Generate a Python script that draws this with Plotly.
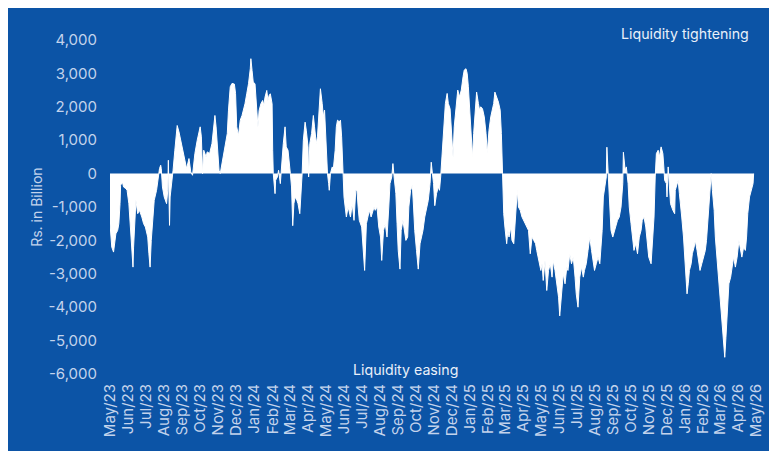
import pandas as pd
import plotly.graph_objects as go

# Days since 2023-05-01 and net liquidity (Rs. billion)
day_offset = [
    0, 2, 3, 6, 8, 10, 13, 15, 17, 18, 21, 23, 27, 29, 32, 34, 37, 39, 40, 42,
    44, 47, 50, 54, 57, 60, 64, 66, 68, 70, 73, 75, 79, 82, 84, 86, 87, 89, 92, 96,
    98, 99, 100, 101, 102, 105, 107, 110, 114, 117, 121, 126, 130, 134, 137, 140, 144, 148, 153, 155,
    157, 159, 163, 165, 169, 173, 175, 178, 180, 182, 185, 187, 190, 193, 196, 199, 201, 204, 207, 211,
    213, 215, 218, 221, 224, 227, 229, 232, 235, 238, 239, 241, 243, 246, 249, 251, 253, 256, 259, 261,
    263, 266, 268, 270, 272, 275, 276, 277, 280, 281, 284, 286, 289, 290, 292, 294, 297, 299, 302, 304,
    306, 308, 310, 312, 314, 317, 319, 322, 324, 326, 328, 331, 333, 336, 337, 339, 342, 345, 347, 350,
    352, 355, 357, 360, 362, 364, 365, 367, 369, 371, 372, 374, 377, 379, 382, 384, 386, 389, 391, 393,
    395, 397, 399, 401, 404, 408, 411, 414, 417, 419, 421, 423, 427, 429, 432, 435, 438, 440, 443, 448,
    450, 453, 456, 459, 461, 464, 467, 470, 473, 475, 478, 480, 482, 485, 487, 489, 492, 494, 497, 500,
    502, 505, 507, 510, 513, 515, 517, 520, 523, 526, 529, 531, 534, 537, 540, 543, 545, 547, 549, 551,
    554, 557, 559, 561, 562, 565, 569, 572, 574, 577, 580, 582, 584, 587, 590, 593, 596, 599, 601, 604,
    606, 608, 610, 612, 615, 617, 620, 622, 625, 627, 629, 632, 635, 638, 640, 643, 646, 651, 653, 656,
    659, 662, 664, 666, 668, 670, 673, 675, 677, 680, 682, 685, 688, 691, 693, 696, 699, 702, 705, 708,
    710, 713, 716, 719, 722, 724, 728, 731, 733, 735, 738, 741, 744, 747, 750, 752, 755, 758, 761, 763,
    766, 769, 772, 775, 777, 780, 783, 786, 789, 791, 794, 797, 800, 803, 805, 808, 811, 814, 817, 819,
    822, 825, 828, 831, 833, 835, 837, 839, 842, 843, 845, 847, 850, 853, 856, 859, 861, 864, 867, 870,
    871, 874, 876, 879, 881, 884, 887, 889, 892, 895, 898, 901, 903, 906, 909, 912, 914, 918, 920, 923,
    925, 927, 930, 932, 935, 938, 940, 941, 944, 945, 947, 949, 951, 955, 958, 959, 962, 964, 966, 968,
    970, 973, 976, 979, 981, 983, 986, 988, 991, 993, 996, 998, 1001, 1004, 1007, 1010, 1012, 1015, 1018, 1020,
    1022, 1025, 1027, 1030, 1033, 1036, 1039, 1041, 1043, 1045, 1048, 1050, 1053, 1055, 1058, 1061, 1064, 1067, 1069, 1072,
    1075, 1078, 1080, 1082, 1085, 1088, 1091, 1092,
]
liquidity = [
    -1500, -2000, -2200, -2350, -2000, -1800, -1700, -1500, -900, -350, -250, -400, -450, -500, -900, -1400, -2200, -2800, -2200, -1500,
    -800, -1200, -1100, -1300, -1500, -1600, -1900, -2400, -2800, -2000, -1200, -800, -500, -100, 150, 250, 150, -400, -700, -900,
    -500, 400, -1000, -1550, -700, -300, 100, 700, 1440, 1250, 900, 400, 150, 450, 50, -50, 600, 1000, 1400, 1100,
    0, 700, 500, 650, 600, 900, 1200, 1740, 1400, 900, 100, 0, 300, 600, 800, 1200, 1900, 2600, 2700, 2680,
    2400, 1400, 1140, 1600, 1740, 1940, 2090, 2390, 2690, 3140, 3440, 3090, 2740, 2690, 1890, 1390, 1890, 2090, 2190, 2040,
    2290, 2490, 2190, 2340, 2390, 2090, 700, 0, -600, -200, -100, 100, -300, 0, 600, 900, 1400, 800, 700, 400,
    0, -400, -1560, -900, -700, -800, -900, -1200, -700, 0, 1000, 1540, 1300, 800, -100, 900, 1200, 1740, 1400, 900,
    1100, 1900, 2540, 2100, 1700, 1900, 1400, 400, 0, -300, -500, 0, 200, 150, 700, 1400, 1600, 1550, 1600, 1100,
    0, -700, -1000, -1300, -1000, -1300, -900, -1400, -500, -500, -1000, -1400, -1600, -2100, -2900, -1500, -1300, -1100, -1300, -1000,
    -1100, -1000, -1600, -1900, -2600, -1700, -1500, -1900, -1000, -300, -100, 300, -100, -600, -1500, -2300, -2860, -1700, -1400, -1700,
    -2000, -1900, -1000, -500, -360, -1000, -1700, -2300, -2860, -2100, -1900, -1700, -1300, -1000, -800, -300, 340, 0, -300, -960,
    -600, -400, -500, -100, 200, 1200, 2100, 2400, 2100, 1940, 1100, 500, 1400, 2000, 2500, 2300, 2500, 2900, 3100, 3140,
    3000, 2600, 2000, 1200, 500, 1200, 1900, 2440, 2100, 1900, 2000, 1940, 1700, 1200, 600, 1300, 1700, 2100, 2440, 2300,
    2140, 1900, 1200, 0, -1200, -1600, -2100, -1700, -1900, -1600, -2000, -2100, -1100, -500, -1000, -1100, -1300, -1400, -1500, -1600,
    -1700, -2400, -1900, -2000, -2100, -2300, -2700, -2900, -2700, -3200, -2600, -3500, -2900, -2700, -3100, -2600, -2900, -3300, -3700, -4260,
    -3500, -3000, -3300, -2800, -2900, -2400, -2700, -2500, -3100, -3600, -4000, -3100, -2800, -3100, -2900, -2700, -2300, -1900, -2300, -2500,
    -2900, -2700, -2500, -2700, -2300, -1700, -700, -500, -100, 790, 0, -900, -1700, -1900, -1700, -1500, -1400, -1300, -1000, -300,
    640, 100, 200, -300, -1000, -1500, -1900, -2300, -2100, -2400, -1900, -1700, -1400, -1300, -1600, -2300, -2500, -2700, -2100, -1300,
    -100, 600, 700, 500, 800, 600, 100, -200, -300, -700, 200, -500, -900, -1100, -1200, -500, -300, -200, -600, -900,
    -1300, -1900, -2700, -3600, -3300, -2900, -2700, -2400, -2200, -2000, -2300, -2500, -2900, -2700, -2500, -2300, -2000, -1300, -500, 0,
    -500, -1100, -1900, -2600, -3300, -4000, -4600, -5100, -5500, -4900, -3900, -3300, -3100, -2900, -2500, -2800, -2500, -2000, -2200, -2500,
    -2200, -2300, -1900, -1200, -700, -500, -300, 0,
]

y_tick_vals = [4000, 3000, 2000, 1000, 0, -1000, -2000, -3000, -4000, -5000, -6000]
y_tick_text = ["4,000", "3,000", "2,000", "1,000", "0", "-1,000", "-2,000",
               "-3,000", "-4,000", "-5,000", "-6,000"]

dates = pd.Timestamp("2023-05-01") + pd.to_timedelta(day_offset, unit="D")

BLUE = "#0c54a6"
TICK = "#c3d3ec"
LIGHT = "#e9f0fa"
FONT = "Inter"

fig = go.Figure()
fig.add_trace(go.Scatter(
    x=dates, y=liquidity, mode="lines", fill="tozeroy",
    fillcolor="white", line=dict(color="white", width=1),
    hoverinfo="skip", showlegend=False,
))

fig.update_layout(
    width=769, height=443,
    margin=dict(l=102, r=14, t=32, b=77),
    paper_bgcolor=BLUE,
    plot_bgcolor=BLUE,
    font=dict(family=FONT, color=TICK, size=14),
    xaxis=dict(
        type="date",
        range=["2023-05-01", "2026-05-01"],
        tick0="2023-05-01", dtick="M1", tickformat="%b/%y",
        tickangle=-90, ticks="", showgrid=False, showline=False, zeroline=False,
        ticklabelstandoff=6,
        tickfont=dict(size=15, color=TICK, family=FONT),
    ),
    xaxis2=dict(
        type="date", overlaying="x", matches="x", anchor="free", position=0.6,
        tick0="2023-05-01", dtick="M1", showticklabels=False,
        ticks="outside", ticklen=3, tickwidth=1, tickcolor="#c9d4e6",
        showline=True, linecolor="#c9d4e6", linewidth=1.5,
        showgrid=False, zeroline=False, layer="above traces",
    ),
    yaxis=dict(
        range=[-6000, 4000], tickvals=y_tick_vals, ticktext=y_tick_text,
        showgrid=False, zeroline=False, showline=False, ticks="",
        ticklabelstandoff=12,
        tickfont=dict(size=15, color=TICK, family=FONT),
    ),
    annotations=[
        dict(text="Liquidity tightening", xref="paper", yref="paper",
             x=(758 - 110) / 653, y=(374 - 34) / 334, xanchor="right", yanchor="middle",
             showarrow=False, font=dict(size=14.2, color=LIGHT, family=FONT)),
        dict(text="Liquidity easing", xref="paper", yref="paper",
             x=(409 - 110) / 653, y=(374 - 370) / 334, xanchor="center", yanchor="middle",
             showarrow=False, font=dict(size=14.2, color=LIGHT, family=FONT)),
        dict(text="Rs. in Billion", xref="paper", yref="paper",
             x=(35 - 110) / 653, y=0.5, xanchor="center", yanchor="middle",
             textangle=-90, showarrow=False, font=dict(size=14, color=TICK, family=FONT)),
    ],
)

fig.write_html("out.html")
